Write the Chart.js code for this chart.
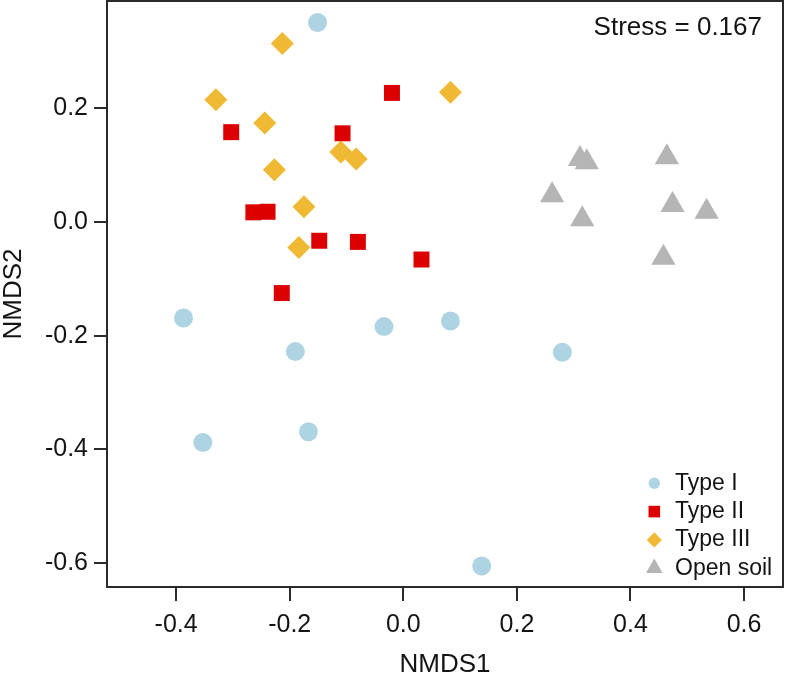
<!DOCTYPE html>
<html>
<head>
<meta charset="utf-8">
<title>NMDS</title>
<script src="https://cdn.jsdelivr.net/npm/chart.js@4/dist/chart.umd.min.js"></script>
<style>
  html, body { margin: 0; padding: 0; background: #ffffff; }
  #wrap { width: 785px; height: 677px; }
</style>
</head>
<body>
<div id="wrap"><canvas id="c" width="785" height="677"></canvas></div>
<script>
// ---- data ----
const seriesNames = ['Type I', 'Type II', 'Type III', 'Open soil'];

const typeI_x = [-0.151, -0.387, -0.034, -0.190, -0.167, -0.353, 0.083, 0.280, 0.138];
const typeI_y = [0.351, -0.169, -0.184, -0.228, -0.369, -0.388, -0.174, -0.229, -0.605];

const typeII_x = [-0.303, -0.107, -0.020, -0.264, -0.239, -0.148, -0.080, -0.214, 0.032];
const typeII_y = [0.158, 0.156, 0.227, 0.017, 0.018, -0.033, -0.035, -0.125, -0.066];

const typeIII_x = [-0.213, -0.330, -0.244, -0.110, -0.083, -0.227, -0.175, -0.184, 0.083];
const typeIII_y = [0.314, 0.215, 0.174, 0.123, 0.111, 0.092, 0.027, -0.045, 0.228];

const openSoil_x = [0.311, 0.323, 0.464, 0.262, 0.315, 0.474, 0.534, 0.458];
const openSoil_y = [0.111, 0.105, 0.114, 0.047, 0.005, 0.030, 0.018, -0.063];

const xTickValues = [-0.4, -0.2, 0.0, 0.2, 0.4, 0.6];
const yTickValues = [-0.6, -0.4, -0.2, 0.0, 0.2];

const xTitle = 'NMDS1';
const yTitle = 'NMDS2';
const stressLabel = 'Stress = 0.167';

// ---- helpers ----
function pts(xs, ys) { return xs.map((x, i) => ({ x: x, y: ys[i] })); }

const FONT = '"Liberation Sans", Arial, Helvetica, sans-serif';
const TXT = '#141414';

const seriesStyle = [
  { color: '#aed3e3', shape: 'circle',   r: 9.5, lr: 5.7 },
  { color: '#dc0000', shape: 'rect',     r: 11.3, lr: 8.2 },
  { color: '#efb934', shape: 'rectRot',  r: 11.5, lr: 7.6 },
  { color: '#b5b5b5', shape: 'triangle', r: 14,   lr: 9.6 }
];

const seriesData = [
  pts(typeI_x, typeI_y),
  pts(typeII_x, typeII_y),
  pts(typeIII_x, typeIII_y),
  pts(openSoil_x, openSoil_y)
];

const datasets = seriesNames.map((name, i) => ({
  label: name,
  data: seriesData[i],
  pointStyle: seriesStyle[i].shape,
  pointRadius: seriesStyle[i].r,
  pointHoverRadius: seriesStyle[i].r,
  backgroundColor: seriesStyle[i].color,
  borderColor: seriesStyle[i].color,
  borderWidth: 0,
  showLine: false
}));

function drawShape(ctx, shape, r, x, y) {
  if (Chart.helpers && Chart.helpers.drawPoint) {
    Chart.helpers.drawPoint(ctx, { pointStyle: shape, radius: r, rotation: 0, borderWidth: 0 }, x, y);
    return;
  }
  ctx.beginPath();
  if (shape === 'circle') ctx.arc(x, y, r, 0, Math.PI * 2);
  else if (shape === 'rect') { const s = r * Math.SQRT1_2; ctx.rect(x - s, y - s, 2 * s, 2 * s); }
  else if (shape === 'rectRot') { ctx.moveTo(x, y - r); ctx.lineTo(x + r, y); ctx.lineTo(x, y + r); ctx.lineTo(x - r, y); ctx.closePath(); }
  else { ctx.moveTo(x, y - r); ctx.lineTo(x + r * 0.866, y + r / 2); ctx.lineTo(x - r * 0.866, y + r / 2); ctx.closePath(); }
  ctx.fill();
}

const overlay = {
  id: 'overlay',
  afterDatasetsDraw(chart) {
    const { ctx, chartArea: a } = chart;
    ctx.save();
    // frame
    ctx.strokeStyle = '#2a2a2a';
    ctx.lineWidth = 2;
    ctx.strokeRect(a.left, a.top, a.right - a.left, a.bottom - a.top);
    // stress text
    ctx.font = '26px ' + FONT;
    ctx.fillStyle = TXT;
    ctx.textAlign = 'right';
    ctx.textBaseline = 'middle';
    ctx.fillText(stressLabel, a.right - 21, a.top + 27);
    // legend
    const rowH = 28.3;
    const y0 = a.bottom - 103.7;
    const mx = a.right - 128.7;
    const tx = a.right - 108;
    ctx.font = '23px ' + FONT;
    ctx.textAlign = 'left';
    seriesNames.forEach((name, i) => {
      const y = y0 + i * rowH;
      ctx.fillStyle = seriesStyle[i].color;
      drawShape(ctx, seriesStyle[i].shape, seriesStyle[i].lr, mx, y);
      ctx.fillStyle = TXT;
      ctx.fillText(name, tx, y);
    });
    ctx.restore();
  }
};

function noPad(s) { s.paddingTop = 0; s.paddingBottom = 0; s.paddingLeft = 0; s.paddingRight = 0; }

new Chart(document.getElementById('c'), {
  type: 'scatter',
  data: { datasets: datasets },
  options: {
    responsive: false,
    animation: false,
    events: [],
    layout: { autoPadding: false, padding: { top: 1, right: 2, left: 0, bottom: 0 } },
    plugins: {
      legend: { display: false },
      tooltip: { enabled: false }
    },
    scales: {
      x: {
        type: 'linear',
        min: -0.5217,
        max: 0.6685,
        afterBuildTicks: (s) => { s.ticks = xTickValues.map(v => ({ value: v })); },
        afterFit: (s) => { s.height = 90; noPad(s); },
        border: { display: false },
        grid: { drawOnChartArea: false, drawTicks: true, tickLength: 14, color: '#2a2a2a', lineWidth: 2 },
        ticks: {
          autoSkip: false, maxRotation: 0, padding: 9,
          color: TXT, font: { family: FONT, size: 25 },
          callback: (v) => Number(v).toFixed(1)
        },
        title: { display: true, text: xTitle, color: TXT, font: { family: FONT, size: 26, lineHeight: 0.9 }, padding: 0 }
      },
      y: {
        type: 'linear',
        min: -0.642,
        max: 0.3887,
        afterBuildTicks: (s) => { s.ticks = yTickValues.map(v => ({ value: v })); },
        afterFit: (s) => { s.width = 107; noPad(s); },
        border: { display: false },
        grid: { drawOnChartArea: false, drawTicks: true, tickLength: 13, color: '#2a2a2a', lineWidth: 2 },
        ticks: {
          autoSkip: false, padding: 6,
          color: TXT, font: { family: FONT, size: 25 },
          callback: (v) => Number(v).toFixed(1)
        },
        title: { display: true, text: yTitle, color: TXT, font: { family: FONT, size: 26, lineHeight: 1.1 }, padding: 0 }
      }
    }
  },
  plugins: [overlay]
});
</script>
</body>
</html>
